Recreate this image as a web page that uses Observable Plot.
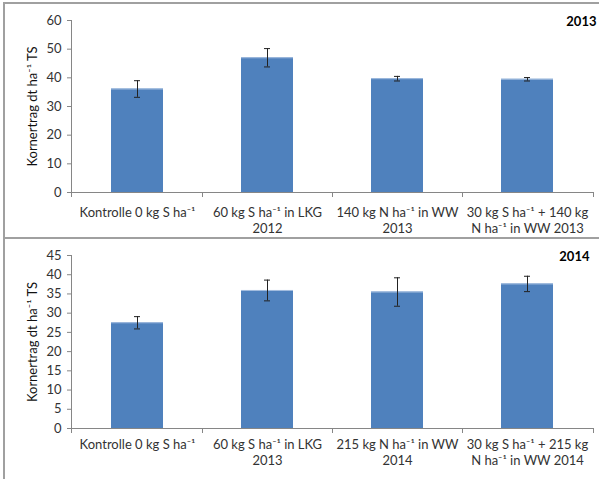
<!DOCTYPE html>
<html><head><meta charset="utf-8">
<script src="https://cdn.jsdelivr.net/npm/d3@7"></script>
<script src="https://cdn.jsdelivr.net/npm/@observablehq/plot@0.6"></script>
<style>
body{margin:0;background:#fff;width:599px;height:479px;overflow:hidden;position:relative;font-family:Lato,"Open Sans",sans-serif}
#frame{position:absolute;left:3px;top:2px;width:620px;height:500px;border-left:2px solid #a0a0a0;border-top:2px solid #a0a0a0;pointer-events:none}
#divider{position:absolute;left:3px;top:237px;width:620px;border-top:2px solid #a0a0a0}
#p1{position:absolute;left:0;top:0}
#p2{position:absolute;left:0;top:240px}
</style></head><body>
<div id="p1"></div><div id="p2"></div><div id="frame"></div><div id="divider"></div>
<script>
// ---- data 2013 ----
const categories2013 = ["K", "S2012", "N2013", "SN2013"];
const labels2013 = ["Kontrolle 0 kg S ha⁻¹", "60 kg S ha⁻¹ in LKG\n2012", "140 kg N ha⁻¹ in WW\n2013", "30 kg S ha⁻¹ + 140 kg\nN ha⁻¹ in WW 2013"];
const values2013 = [36.1, 47.0, 39.7, 39.5];
const errors2013 = [2.9, 3.2, 0.8, 0.6];
const yTicks2013 = [0, 10, 20, 30, 40, 50, 60];
// ---- data 2014 ----
const categories2014 = ["K", "S2013", "N2014", "SN2014"];
const labels2014 = ["Kontrolle 0 kg S ha⁻¹", "60 kg S ha⁻¹ in LKG\n2013", "215 kg N ha⁻¹ in WW\n2014", "30 kg S ha⁻¹ + 215 kg\nN ha⁻¹ in WW 2014"];
const values2014 = [27.5, 35.9, 35.5, 37.6];
const errors2014 = [1.6, 2.7, 3.7, 2.0];
const yTicks2014 = [0, 5, 10, 15, 20, 25, 30, 35, 40, 45];

const yLabel = "Kornertrag dt ha⁻¹ TS";
const axisColor = "#868686";
const textColor = "#333";
const barColor = "#4F81BD";

function panel({cats, labels, values, errors, yTicks, year, height, marginTop, marginBottom, labelPad, yearDx}) {
  const data = cats.map((c, i) => ({c, label: labels[i], v: values[i], lo: values[i] - errors[i], hi: values[i] + errors[i]}));
  const axisLines = (index, scales, vals, dims) => {
    const x = scales.x, y = scales.y;
    const left = dims.marginLeft, right = dims.width - dims.marginRight, base = y(0), top = dims.marginTop;
    const g = d3.create("svg:g").attr("stroke", axisColor).attr("fill", "none").attr("shape-rendering", "crispEdges");
    g.append("line").attr("x1", left).attr("x2", left).attr("y1", top).attr("y2", base);
    g.append("line").attr("x1", left).attr("x2", right).attr("y1", base).attr("y2", base);
    const bw = x.bandwidth();
    const centers = cats.map(c => x(c) + bw / 2);
    const bounds = [left];
    for (let i = 0; i < centers.length - 1; i++) bounds.push((centers[i] + centers[i + 1]) / 2);
    bounds.push(right);
    for (const b of bounds) g.append("line").attr("x1", b).attr("x2", b).attr("y1", base).attr("y2", base + 5);
    return g.node();
  };
  return Plot.plot({
    width: 599,
    height,
    marginLeft: 71,
    marginRight: 6,
    marginTop,
    marginBottom,
    style: {fontFamily: "Lato, 'Open Sans', sans-serif", background: "transparent", overflow: "visible"},
    x: {domain: cats, paddingInner: 0.6, paddingOuter: 0.3, axis: null},
    y: {domain: [0, yTicks[yTicks.length - 1]], axis: null},
    marks: [
      Plot.barY(data, {x: "c", y: "v", fill: barColor}),
      Plot.tickY(data, {x: "c", y: "v", stroke: "#a3bddf", strokeWidth: 1}),
      Plot.ruleX(data, {x: "c", y1: "lo", y2: "hi", stroke: "#222", strokeWidth: 1}),
      Plot.tickY(data, {x: "c", y: "lo", stroke: "#222", insetLeft: 23, insetRight: 23}),
      Plot.tickY(data, {x: "c", y: "hi", stroke: "#222", insetLeft: 23, insetRight: 23}),
      axisLines,
      Plot.axisY({ticks: yTicks, tickSize: 4, tickPadding: 6, stroke: axisColor, fill: textColor, fontSize: 13, label: null, tickFormat: d => String(d)}),
      Plot.text(data, {x: "c", text: "label", frameAnchor: "bottom", textAnchor: "middle", lineAnchor: "top", dy: labelPad, lineHeight: 1.25, fontSize: 13, fill: textColor}),
      Plot.text([yLabel], {frameAnchor: "left", textAnchor: "middle", lineAnchor: "middle", rotate: -90, dx: -39, fontSize: 13, fill: "#111"}),
      Plot.text([year], {frameAnchor: "top-right", textAnchor: "end", lineAnchor: "middle", dx: yearDx, dy: 1, fontSize: 13, fontWeight: "bold", fill: "#000"})
    ]
  });
}

document.getElementById("p1").append(panel({
  cats: categories2013, labels: labels2013, values: values2013, errors: errors2013, yTicks: yTicks2013,
  year: "2013", height: 237, marginTop: 20, marginBottom: 45, labelPad: 13, yearDx: 3
}));
document.getElementById("p2").append(panel({
  cats: categories2014, labels: labels2014, values: values2014, errors: errors2014, yTicks: yTicks2014,
  year: "2014", height: 239, marginTop: 15, marginBottom: 51, labelPad: 9, yearDx: -4
}));
</script>
</body></html>
